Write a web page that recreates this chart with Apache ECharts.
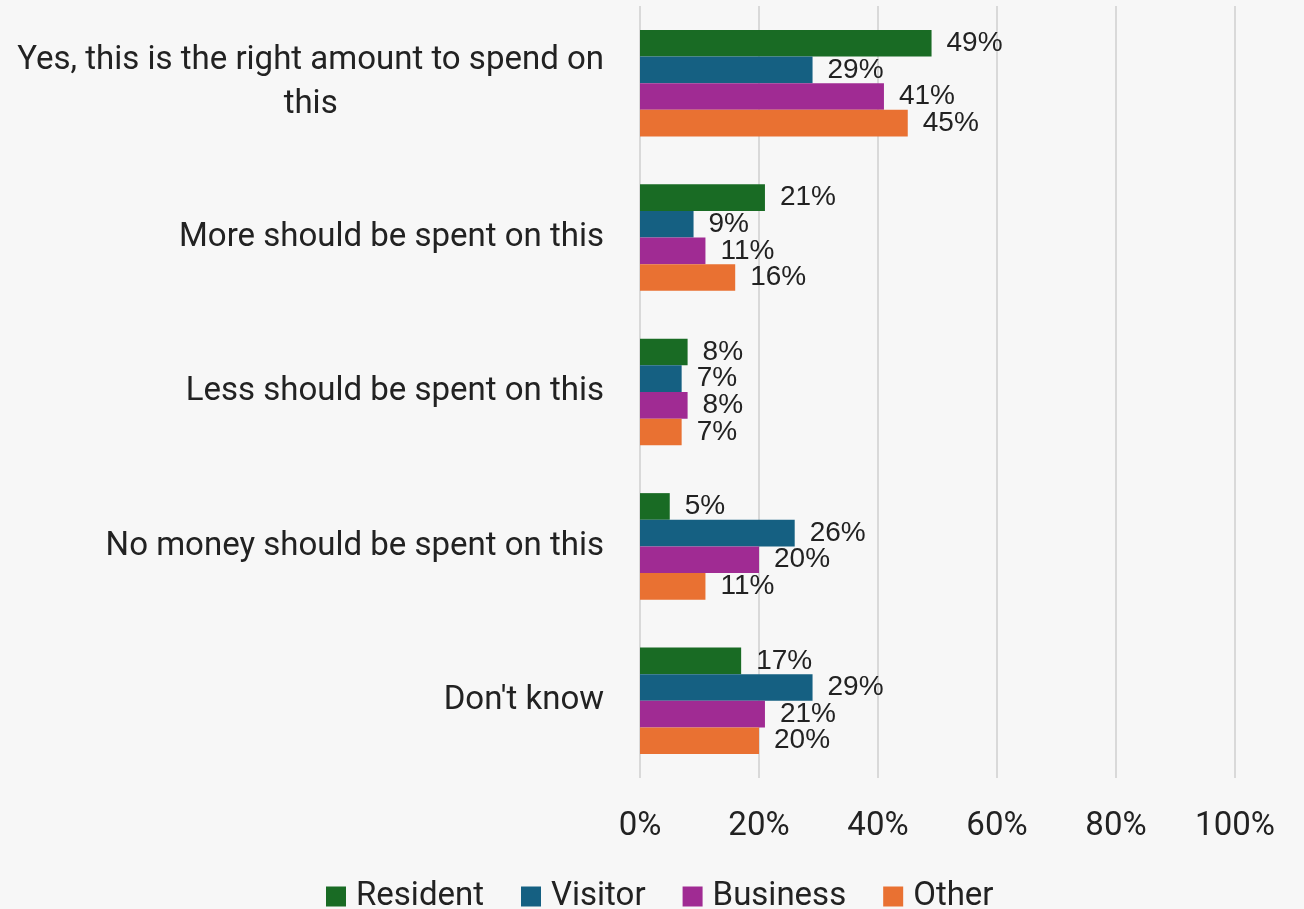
<!DOCTYPE html>
<html><head><meta charset="utf-8">
<script src="https://cdn.jsdelivr.net/npm/echarts@6/dist/echarts.min.js"></script>
<style>html,body{margin:0;padding:0;background:#f7f7f7;}#c{width:1304px;height:909px;}</style>
</head><body><div id="c"></div>
<script>
const categories = ["Yes, this is the right amount to spend on\nthis", "More should be spent on this", "Less should be spent on this", "No money should be spent on this", "Don't know"];
const seriesNames = ["Resident", "Visitor", "Business", "Other"];
const resident = [49, 21, 8, 5, 17];
const visitor = [29, 9, 7, 26, 29];
const business = [41, 11, 8, 20, 21];
const other = [45, 16, 7, 11, 20];
const xTicks = [0, 20, 40, 60, 80, 100];
const colors = ["#196B24", "#156082", "#A02B93", "#E97132"];

const sans = "Roboto, 'Liberation Sans', sans-serif";
const chart = echarts.init(document.getElementById('c'));
const data = [resident, visitor, business, other];
chart.setOption({
  backgroundColor: '#f7f7f7',
  animation: false,
  grid: {left: 640, right: 69, top: 6, bottom: 131, containLabel: false},
  legend: {
    data: seriesNames, top: 875, left: 321, itemWidth: 20, itemHeight: 20, itemGap: 37,
    icon: 'rect',
    textStyle: {fontFamily: sans, fontSize: 33, color: '#222', padding: [0, 0, 0, 5]}
  },
  xAxis: {
    type: 'value', min: xTicks[0], max: xTicks[xTicks.length-1], interval: 20,
    axisLine: {show: false}, axisTick: {show: false},
    splitLine: {show: true, lineStyle: {color: '#d9d9d9', width: 2}},
    axisLabel: {margin: 32, fontFamily: sans, fontSize: 33, color: '#222', formatter: v => v + '%'}
  },
  yAxis: {
    type: 'category', data: categories, inverse: true,
    axisLine: {show: false}, axisTick: {show: false},
    axisLabel: {
      margin: 36, fontFamily: sans, fontSize: 33, color: '#222', lineHeight: 44,
      formatter: v => v.split('\n').map(l => '{c|' + l + '}').join('\n'),
      rich: {c: {align: 'center', fontFamily: sans, fontSize: 33, color: '#222', lineHeight: 44}}
    }
  },
  series: seriesNames.map((n, i) => ({
    name: n, type: 'bar', data: data[i], barGap: '0%', barCategoryGap: '31%',
    itemStyle: {color: colors[i]},
    label: {show: true, position: 'right', distance: 15, formatter: p => p.value + '%',
      fontFamily: "'Liberation Sans', Arial, sans-serif", fontSize: 28, color: '#222'}
  }))
});
</script></body></html>
